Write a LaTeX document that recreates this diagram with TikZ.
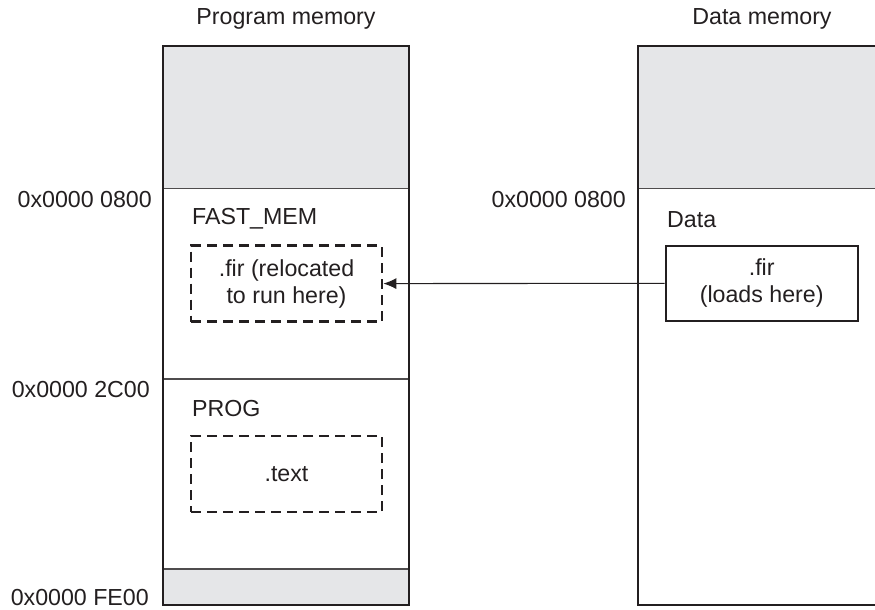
\documentclass[tikz,border=0pt]{standalone}
\usepackage{fontspec}
\setmainfont{Liberation Sans}
\usetikzlibrary{arrows.meta,positioning}
\definecolor{memgray}{RGB}{229,230,232}
\definecolor{inkblack}{RGB}{35,31,32}

\begin{document}
\begin{tikzpicture}[x=1pt,y=-1pt,
    font=\fontsize{23.2}{27}\selectfont,
    every node/.style={inner sep=0pt, text=inkblack},
    outline/.style={draw=inkblack, line width=2.4pt},
    divider/.style={draw=inkblack!80, line width=1.1pt},
    dashbox/.style={draw=inkblack, line width=2.6pt, dash pattern=on 10pt off 6pt,
      minimum width=191pt, minimum height=76pt, align=center},
    loadbox/.style={draw=inkblack, line width=2.4pt, minimum width=192pt,
      minimum height=75pt, align=center},
    addr/.style={anchor=east},
    region/.style={anchor=west}]
  \useasboundingbox (0,0) rectangle (875,610);

  \fill[memgray] (162.7,46) rectangle (409,188.7);
  \fill[memgray] (162.7,569) rectangle (409,605);
  \fill[memgray] (637.7,46) rectangle (875,188.7);
  \draw[divider] (162.7,188.7) -- (409,188.7);
  \draw[divider] (162.7,379) -- (409,379);
  \draw[divider] (162.7,569) -- (409,569);
  \draw[divider] (637.7,188.7) -- (875,188.7);
  \draw[outline] (162.7,46) rectangle (409,605);
  \draw[outline] (876,46) -- (637.7,46) -- (637.7,605) -- (876,605);

  \node (progtitle) at (286,19) {Program memory};
  \node (datatitle) at (762,19) {Data memory};

  \node[addr] (progstart) at (152,200) {0x0000 0800};
  \node[addr] (progmid) at (150,390) {0x0000 2C00};
  \node[addr] (progend) at (149,598) {0x0000 FE00};
  \node[addr] (datastart) at (626,200) {0x0000 0800};

  \node[region] (fastmem) at (192,219) {FAST\_MEM};
  \node[region] (prog) at (192,409) {PROG};
  \node[region] (data) at (667,220) {Data};

  \node[dashbox] (fir) at (286.5,283.7) {.fir (relocated\\to run here)};
  \node[dashbox] (text) at (286.5,474) {.text};
  \node[loadbox] (firload) at (761.7,283.2) {.fir\\(loads here)};

  \draw[-{Latex[length=13pt,width=11pt]}, line width=1.1pt, draw=inkblack] (firload) -- (fir);
\end{tikzpicture}
\end{document}
